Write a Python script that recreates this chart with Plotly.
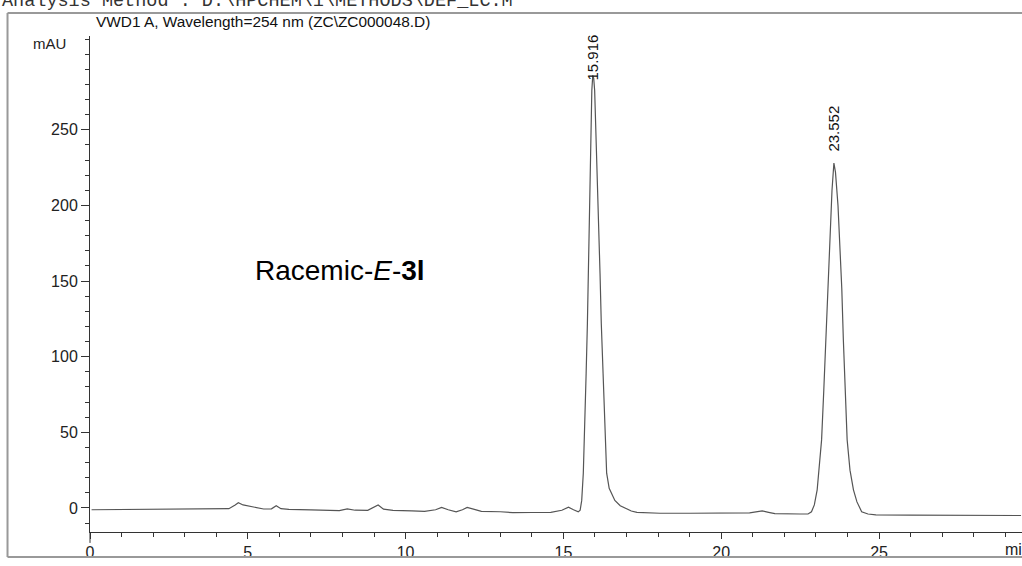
import plotly.graph_objects as go

# ---- data ----
time_min = [0.05, 1.0, 2.0, 3.0, 4.0, 4.4, 4.6, 4.7, 4.85, 5.1, 5.5, 5.75, 5.9, 6.05, 6.3,
            7.0, 7.9, 8.15, 8.4, 8.8, 8.95, 9.13, 9.3, 9.6, 10.2, 10.6, 10.95, 11.14, 11.35,
            11.6, 11.8, 11.95, 12.15, 12.4, 13.0, 13.4, 14.0, 14.6, 14.95, 15.16, 15.32, 15.47,
            15.53, 15.58, 15.63, 15.68, 15.72, 15.76, 15.79, 15.82, 15.84, 15.87, 15.90, 15.93,
            15.96, 15.99, 16.03, 16.07, 16.11, 16.16, 16.20, 16.25, 16.30, 16.37, 16.45, 16.55,
            16.63, 16.80, 17.00, 17.15, 17.33, 17.6, 18.06, 19.0, 20.0, 20.9, 21.1, 21.3, 21.5,
            21.7, 22.5, 22.75, 22.86, 22.95, 23.04, 23.11, 23.18, 23.25, 23.31, 23.38, 23.45,
            23.51, 23.57, 23.62, 23.70, 23.76, 23.82, 23.87, 23.93, 23.99, 24.08, 24.19, 24.30,
            24.45, 24.65, 24.9, 26.0, 27.0, 28.0, 29.5]
signal_mau = [-1.2, -1.1, -1.0, -1.0, -1.0, -0.5, 2.0, 3.5, 2.0, 0.8, -0.7, -0.6, 1.5, -0.5, -1.0,
              -1.3, -1.8, -0.6, -1.5, -1.6, 0.0, 2.0, -0.8, -1.6, -2.0, -2.2, -1.2, 0.3, -1.2,
              -2.6, -1.2, 0.3, -0.8, -2.3, -2.5, -3.1, -3.0, -2.9, -1.5, 0.5, -1.2, -2.6,
              -1.5, 5, 23, 55, 89, 122, 155, 190, 222, 255, 276, 286,
              284, 276, 250, 222, 190, 155, 122, 89, 55, 23, 13, 8,
              5, 1.5, -0.7, -2.0, -2.9, -3.3, -3.5, -3.5, -3.6, -3.3, -2.6, -2.0, -2.9,
              -3.8, -4.0, -4.0, -2.5, 2, 12, 28, 45, 78, 111, 145, 177,
              210, 228, 222, 200, 177, 145, 111, 78, 45, 25, 12, 4,
              -2.5, -4.0, -4.6, -4.8, -5.0, -5.0, -5.0]

peak_times = [15.916, 23.552]
peak_labels = ["15.916", "23.552"]
peak_label_y = [298, 251]

x_tick_vals = [0, 5, 10, 15, 20, 25]
y_tick_vals = [0, 50, 100, 150, 200, 250]

FONT = "Liberation Sans, Arial, sans-serif"
INK = "#222222"

fig = go.Figure()
fig.add_trace(go.Scatter(x=time_min, y=signal_mau, mode="lines",
                         line=dict(color="#555555", width=1.2), hoverinfo="skip",
                         showlegend=False))

for t, lab, yy in zip(peak_times, peak_labels, peak_label_y):
    fig.add_annotation(x=t, y=yy, text=lab, showarrow=False, textangle=-90,
                       font=dict(family=FONT, size=15, color="#111111"), xref="x", yref="y")

fig.update_layout(
    width=1022, height=566,
    margin=dict(l=90, r=0, t=36, b=34),
    paper_bgcolor="white", plot_bgcolor="white",
    showlegend=False,
    xaxis=dict(range=[0, 29.53], showgrid=False, zeroline=False,
               showline=True, linecolor="#333333", linewidth=1,
               tickvals=x_tick_vals, ticks="outside", ticklen=6, tickcolor="#333333",
               tickfont=dict(family=FONT, size=16, color=INK),
               minor=dict(dtick=1, tick0=0, ticks="outside", ticklen=4, tickcolor="#333333")),
    yaxis=dict(range=[-15.9, 312], showgrid=False, zeroline=False,
               showline=True, linecolor="#333333", linewidth=1,
               tickvals=y_tick_vals, ticks="outside", ticklen=8, tickcolor="#333333",
               tickfont=dict(family=FONT, size=16, color=INK),
               minor=dict(dtick=10, tick0=0, ticks="outside", ticklen=4, tickcolor="#333333")),
)

# texts
fig.add_annotation(xref="paper", yref="paper", x=-0.0966, y=1.0444, xanchor="left",
                   yanchor="bottom", showarrow=False,
                   text="Analysis Method : D:\\HPCHEM\\1\\METHODS\\DEF_LC.M",
                   font=dict(family="Liberation Mono, Courier New, monospace", size=18.5, color="#333333"))
fig.add_annotation(xref="paper", yref="paper", x=0.0045, y=1.0302, xanchor="left",
                   yanchor="middle", showarrow=False,
                   text="VWD1 A, Wavelength=254 nm (ZC\\ZC000048.D)",
                   font=dict(family=FONT, size=15.4, color="#111111"))
fig.add_annotation(xref="paper", yref="paper", x=-0.0236, y=0.984, xanchor="right",
                   yanchor="middle", showarrow=False, text="mAU",
                   font=dict(family=FONT, size=15, color=INK))
fig.add_annotation(xref="paper", yref="paper", x=0.9796, y=-0.0343, xanchor="left",
                   yanchor="middle", showarrow=False, text="min",
                   font=dict(family=FONT, size=16, color=INK))
fig.add_annotation(x=7.92, y=157, xref="x", yref="y", showarrow=False,
                   text="Racemic-<i>E</i>-<b>3l</b>",
                   font=dict(family=FONT, size=28, color="#000000"))

# y-axis line extension below the x-axis and outer frame
fig.add_shape(type="line", xref="paper", yref="paper", x0=0, x1=0, y0=-0.022, y1=0,
              line=dict(color="#333333", width=1))
fig.add_shape(type="line", xref="paper", yref="paper", x0=-0.0885, x1=-0.0885, y0=-0.0504, y1=1.0464,
              line=dict(color="#999999", width=2))
fig.add_shape(type="line", xref="paper", yref="paper", x0=-0.0885, x1=1.01, y0=1.0464, y1=1.0464,
              line=dict(color="#999999", width=2))
fig.add_shape(type="line", xref="paper", yref="paper", x0=-0.0885, x1=1.01, y0=-0.0504, y1=-0.0504,
              line=dict(color="#999999", width=2))

fig.write_html("out.html", config={"displayModeBar": False},
               post_script="document.body.style.margin='0';document.body.style.overflow='hidden';")
